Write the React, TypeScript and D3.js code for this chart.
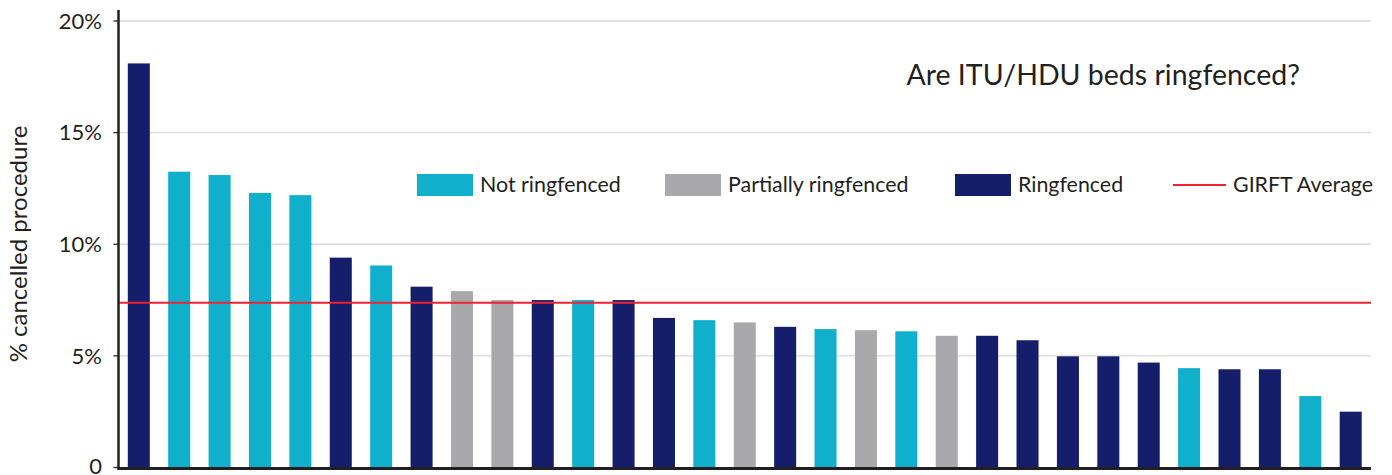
import React from "react";
import * as d3 from "d3";

const categories: string[] = Array.from({ length: 31 }, (_, i) => `T${i + 1}`);
const values: number[] = [
  18.1, 13.25, 13.1, 12.3, 12.2, 9.4, 9.05, 8.1, 7.9, 7.5, 7.5, 7.5, 7.5, 6.7, 6.6,
  6.5, 6.3, 6.2, 6.15, 6.1, 5.9, 5.9, 5.7, 4.98, 4.98, 4.7, 4.45, 4.4, 4.4, 3.2, 2.5,
];
const groups: string[] = [
  "R", "N", "N", "N", "N", "R", "N", "R", "P", "P", "R", "N", "R", "R", "N",
  "P", "R", "N", "P", "N", "P", "R", "R", "R", "R", "R", "N", "R", "R", "N", "R",
];
const averageValue = 7.38;
const yTicks: number[] = [0, 5, 10, 15, 20];
const legendItems = [
  { key: "N", label: "Not ringfenced" },
  { key: "P", label: "Partially ringfenced" },
  { key: "R", label: "Ringfenced" },
];
const colors: Record<string, string> = { N: "#10AFCB", P: "#A9A9AB", R: "#141E6B" };

export default function App() {
  const W = 1392, H = 475;
  const left = 118.5, right = 1371, top = 10;
  const x = d3.scaleBand<string>().domain(categories).range([left, right]).paddingInner(0.455).paddingOuter(0.23);
  const y = d3.scaleLinear().domain([0, 20]).range([467.5, 21]);
  const font = "Lato, 'Open Sans', sans-serif";
  const legendX = [417, 665, 955];
  return (
    <svg width={W} height={H} style={{ position: "absolute", left: 0, top: 0 }} fontFamily={font}>
      {yTicks.filter(t => t > 0).map(t => (
        <line key={t} x1={left} x2={right} y1={y(t)} y2={y(t)} stroke="#D9D9D9" strokeWidth={1.3} />
      ))}
      {values.map((v, i) => (
        <rect key={i} x={x(categories[i])} y={y(v)} width={x.bandwidth()} height={y(0) - y(v)} fill={colors[groups[i]]} />
      ))}
      <line x1={left} x2={right} y1={y(averageValue)} y2={y(averageValue)} stroke="#EE2233" strokeWidth={2} />
      <line x1={left} x2={right} y1={y(0) + 1} y2={y(0) + 1} stroke="#231F20" strokeWidth={3} />
      <line x1={left} x2={left} y1={top} y2={y(0) + 2.5} stroke="#231F20" strokeWidth={2.5} />
      {yTicks.map(t => (
        <g key={t}>
          <line x1={left - 5} x2={left} y1={y(t)} y2={y(t)} stroke="#231F20" strokeWidth={1.3} />
          <text x={102} y={t === 0 ? y(t) - 1 : y(t)} dy="0.35em" textAnchor="end" fontSize={22} fill="#231F20">
            {t === 0 ? "0" : `${t}%`}
          </text>
        </g>
      ))}
      <text transform={`translate(27,244) rotate(-90)`} textAnchor="middle" fontSize={24} fill="#231F20">
        % cancelled procedure
      </text>
      <text x={1300} y={75} dy="0.35em" textAnchor="end" fontSize={28.5} fill="#231F20">
        Are ITU/HDU beds ringfenced?
      </text>
      {legendItems.map((it, i) => (
        <g key={it.key}>
          <rect x={legendX[i]} y={174} width={56} height={22} fill={colors[it.key]} />
          <text x={legendX[i] + 63} y={185} dy="0.35em" fontSize={21.4} fill="#231F20">{it.label}</text>
        </g>
      ))}
      <line x1={1173} x2={1226} y1={185} y2={185} stroke="#EE2233" strokeWidth={2} />
      <text x={1233} y={185} dy="0.35em" fontSize={21.4} fill="#231F20">GIRFT Average</text>
    </svg>
  );
}
